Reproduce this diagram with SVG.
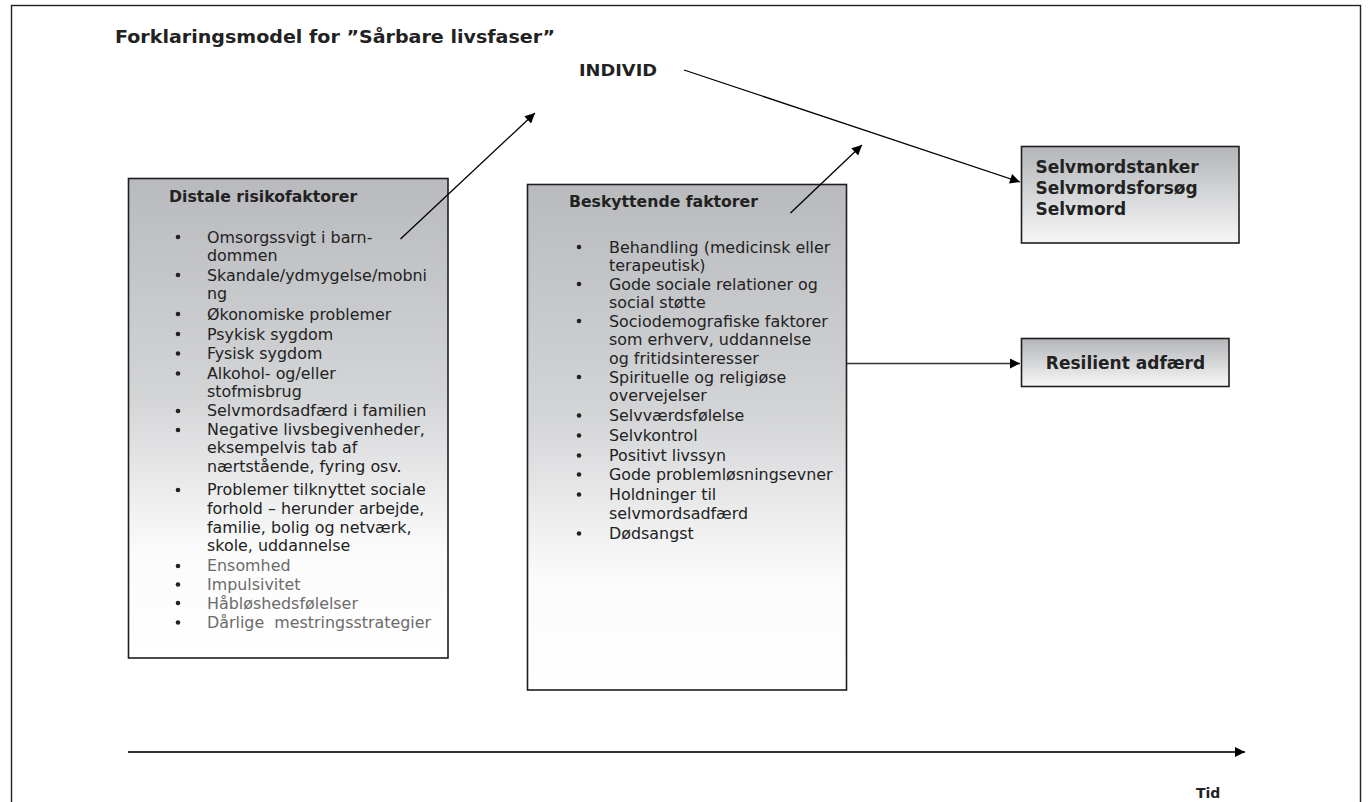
<svg xmlns="http://www.w3.org/2000/svg" width="1368" height="802" viewBox="0 0 1368 802">
<defs>
<linearGradient id="gBig" x1="0" y1="0" x2="0" y2="1">
<stop offset="0" stop-color="#b8babd"/>
<stop offset="0.45" stop-color="#d3d4d6"/>
<stop offset="0.78" stop-color="#fbfbfb"/>
<stop offset="1" stop-color="#ffffff"/>
</linearGradient>
<linearGradient id="gSmall" x1="0" y1="0" x2="0" y2="1">
<stop offset="0" stop-color="#b3b5b8"/>
<stop offset="1" stop-color="#f7f7f7"/>
</linearGradient>
<marker id="arr" viewBox="0 0 10 10" refX="10" refY="5" markerWidth="11" markerHeight="10" markerUnits="userSpaceOnUse" orient="auto">
<path d="M0,0 L10,5 L0,10 z" fill="#000"/>
</marker>
<style>
.box{stroke:#1e1e1e;stroke-width:1.6}
.t{font-family:"DejaVu Sans",Verdana,sans-serif;font-size:15.9px;fill:#222}
.g{fill:#6b6b6b}
.h{font-family:"DejaVu Sans",Verdana,sans-serif;font-size:15.7px;font-weight:bold;fill:#222}
.b{font-family:"DejaVu Sans",Verdana,sans-serif;font-weight:bold;fill:#222}
.dot{fill:#222}
.ln{stroke:#000;stroke-width:1.3;fill:none}
</style>
</defs>
<rect x="11.5" y="5.5" width="1349" height="820" fill="#fff" stroke="#222" stroke-width="1.4"/>
<text id="title" class="b" x="115" y="43" font-size="18" textLength="440" lengthAdjust="spacingAndGlyphs">Forklaringsmodel for ”Sårbare livsfaser”</text>
<g id="individ"><text class="b" x="579" y="76" font-size="16.5" textLength="78" lengthAdjust="spacingAndGlyphs">INDIVID</text></g>

<g id="distale">
<rect class="box" x="128.5" y="178.5" width="319.5" height="479.5" fill="url(#gBig)"/>
<text class="h" x="169" y="202">Distale risikofaktorer</text>
<g class="dot">
<circle cx="178" cy="237" r="2.3"/><circle cx="178" cy="275" r="2.3"/><circle cx="178" cy="314" r="2.3"/><circle cx="178" cy="334" r="2.3"/><circle cx="178" cy="353.5" r="2.3"/><circle cx="178" cy="373.5" r="2.3"/><circle cx="178" cy="411" r="2.3"/><circle cx="178" cy="430" r="2.3"/><circle cx="178" cy="490" r="2.3"/><circle cx="178" cy="566" r="2.3"/><circle cx="178" cy="584.5" r="2.3"/><circle cx="178" cy="603" r="2.3"/><circle cx="178" cy="622.5" r="2.3"/>
</g>
<text class="t" x="207" y="242.5">Omsorgssvigt i barn-</text>
<text class="t" x="207" y="260.7">dommen</text>
<text class="t" x="207" y="280.7">Skandale/ydmygelse/mobni</text>
<text class="t" x="207" y="299">ng</text>
<text class="t" x="207" y="319.7">Økonomiske problemer</text>
<text class="t" x="207" y="339.7">Psykisk sygdom</text>
<text class="t" x="207" y="359">Fysisk sygdom</text>
<text class="t" x="207" y="379">Alkohol- og/eller</text>
<text class="t" x="207" y="397.4">stofmisbrug</text>
<text class="t" x="207" y="416.4">Selvmordsadfærd i familien</text>
<text class="t" x="207" y="435">Negative livsbegivenheder,</text>
<text class="t" x="207" y="453.4">eksempelvis tab af</text>
<text class="t" x="207" y="471.7">nærtstående, fyring osv.</text>
<text class="t" x="207" y="495.2">Problemer tilknyttet sociale</text>
<text class="t" x="207" y="514">forhold – herunder arbejde,</text>
<text class="t" x="207" y="532.7">familie, bolig og netværk,</text>
<text class="t" x="207" y="551.2">skole, uddannelse</text>
<text class="t g" x="207" y="571.2">Ensomhed</text>
<text class="t g" x="207" y="589.7">Impulsivitet</text>
<text class="t g" x="207" y="608.5">Håbløshedsfølelser</text>
<text class="t g" x="207" y="628" xml:space="preserve">Dårlige  mestringsstrategier</text>
</g>

<g id="beskyttende">
<rect class="box" x="527.5" y="184.5" width="319" height="505.5" fill="url(#gBig)"/>
<text class="h" x="569" y="207">Beskyttende faktorer</text>
<g class="dot">
<circle cx="579" cy="247" r="2.3"/><circle cx="579" cy="284" r="2.3"/><circle cx="579" cy="321" r="2.3"/><circle cx="579" cy="377" r="2.3"/><circle cx="579" cy="415.5" r="2.3"/><circle cx="579" cy="435.5" r="2.3"/><circle cx="579" cy="455.5" r="2.3"/><circle cx="579" cy="474.5" r="2.3"/><circle cx="579" cy="494.5" r="2.3"/><circle cx="579" cy="533.5" r="2.3"/>
</g>
<text class="t" x="609" y="252.5">Behandling (medicinsk eller</text>
<text class="t" x="609" y="270.5">terapeutisk)</text>
<text class="t" x="609" y="289.5">Gode sociale relationer og</text>
<text class="t" x="609" y="307.5">social støtte</text>
<text class="t" x="609" y="326.5">Sociodemografiske faktorer</text>
<text class="t" x="609" y="345">som erhverv, uddannelse</text>
<text class="t" x="609" y="363.5">og fritidsinteresser</text>
<text class="t" x="609" y="382.5">Spirituelle og religiøse</text>
<text class="t" x="609" y="401">overvejelser</text>
<text class="t" x="609" y="421">Selvværdsfølelse</text>
<text class="t" x="609" y="441">Selvkontrol</text>
<text class="t" x="609" y="461">Positivt livssyn</text>
<text class="t" x="609" y="480">Gode problemløsningsevner</text>
<text class="t" x="609" y="500">Holdninger til</text>
<text class="t" x="609" y="519">selvmordsadfærd</text>
<text class="t" x="609" y="539">Dødsangst</text>
</g>

<g id="selvmord">
<rect class="box" x="1021.5" y="146.5" width="217.5" height="96.5" fill="url(#gSmall)"/>
<text class="b" x="1035.5" y="173" font-size="17">Selvmordstanker</text>
<text class="b" x="1035.5" y="193.5" font-size="17">Selvmordsforsøg</text>
<text class="b" x="1035.5" y="214.5" font-size="17">Selvmord</text>
</g>

<g id="resilient">
<rect class="box" x="1021.5" y="338.5" width="207.5" height="48" fill="url(#gSmall)"/>
<text class="b" x="1125.5" y="369" font-size="17" text-anchor="middle">Resilient adfærd</text>
</g>

<g id="tid"><text class="b" x="1196" y="798" font-size="14">Tid</text></g>

<g id="connectors">
<line class="ln" x1="400.5" y1="239" x2="535" y2="113" marker-end="url(#arr)"/>
<line class="ln" x1="790.5" y1="213" x2="862" y2="145" marker-end="url(#arr)"/>
<line class="ln" x1="684" y1="70" x2="1020" y2="182" marker-end="url(#arr)"/>
<line x1="847" y1="363.5" x2="1020" y2="363.5" stroke="#333" stroke-width="1.6" marker-end="url(#arr)"/>
<line x1="128" y1="752" x2="1245" y2="752" stroke="#333" stroke-width="2" marker-end="url(#arr)"/>
</g>
</svg>
